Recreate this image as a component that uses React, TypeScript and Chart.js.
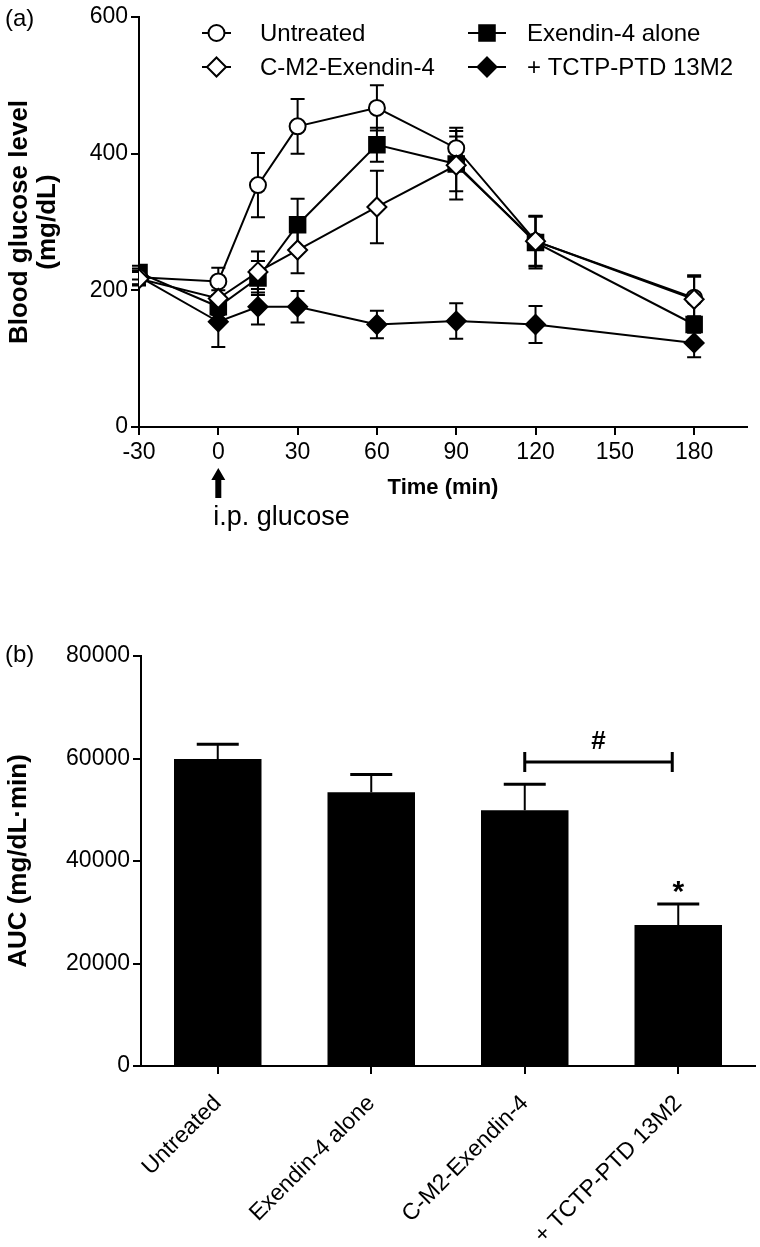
import React, { useEffect, useRef } from 'react';
import { Chart, registerables } from 'chart.js';

Chart.register(...registerables);

const FONT = '"Liberation Sans", Arial, Helvetica, sans-serif';

// ---------- Panel (a) data ----------
const timePoints = [-30, 0, 15, 30, 60, 90, 120, 180];
const xTicksA = [-30, 0, 30, 60, 90, 120, 150, 180];
const yTicksA = [0, 200, 400, 600];

const untreated = [219, 213, 354, 440, 467, 408, 272, 189];
const untreatedErr = [10, 20, 47, 40, 33, 30, 37, 33];
const exendinAlone = [226, 176, 218, 296, 413, 385, 270, 150];
const exendinAloneErr = [10, 12, 25, 38, 25, 40, 38, 12];
const cm2Exendin = [217, 188, 227, 259, 322, 383, 272, 187];
const cm2ExendinErr = [10, 12, 30, 34, 53, 50, 36, 33];
const tctp = [220, 154, 176, 176, 150, 155, 150, 123];
const tctpErr = [12, 37, 26, 23, 20, 26, 27, 21];

const seriesNames = ['Untreated', 'Exendin-4 alone', 'C-M2-Exendin-4', '+ TCTP-PTD 13M2'];

// ---------- Panel (b) data ----------
const categories = ['Untreated', 'Exendin-4 alone', 'C-M2-Exendin-4', '+ TCTP-PTD 13M2'];
const aucValues = [59900, 53400, 49900, 27500];
const aucErrors = [2900, 3500, 5100, 4100];
const yTicksB = [0, 20000, 40000, 60000, 80000];
const bracketFrom = 2;
const bracketTo = 3;
const bracketValue = 59300;
const hashValue = 63300;
const starValue = 34800;

function drawMarker(
  ctx: CanvasRenderingContext2D,
  style: string,
  x: number,
  y: number,
  r: number,
  fill: string,
) {
  ctx.save();
  ctx.beginPath();
  if (style === 'circle') {
    ctx.arc(x, y, r, 0, Math.PI * 2);
  } else if (style === 'rect') {
    const s = r * Math.SQRT1_2;
    ctx.rect(x - s, y - s, 2 * s, 2 * s);
  } else {
    ctx.moveTo(x, y - r);
    ctx.lineTo(x + r, y);
    ctx.lineTo(x, y + r);
    ctx.lineTo(x - r, y);
    ctx.closePath();
  }
  ctx.fillStyle = fill;
  ctx.fill();
  ctx.lineWidth = 2;
  ctx.strokeStyle = '#000';
  ctx.stroke();
  ctx.restore();
}

const errorBarsA = {
  id: 'errorBarsA',
  beforeDatasetsDraw(chart: any) {
    const ctx = chart.ctx;
    const ys = chart.scales.y;
    ctx.save();
    ctx.strokeStyle = '#000';
    ctx.lineWidth = 2;
    chart.data.datasets.forEach((ds: any, i: number) => {
      const meta = chart.getDatasetMeta(i);
      meta.data.forEach((pt: any, j: number) => {
        const v = ds.data[j].y;
        const e = ds.errors[j];
        const x = pt.x;
        const yt = ys.getPixelForValue(v + e);
        const yb = ys.getPixelForValue(v - e);
        ctx.beginPath();
        ctx.moveTo(x, yt);
        ctx.lineTo(x, yb);
        ctx.moveTo(x - 7, yt);
        ctx.lineTo(x + 7, yt);
        ctx.moveTo(x - 7, yb);
        ctx.lineTo(x + 7, yb);
        ctx.stroke();
      });
    });
    ctx.restore();
  },
};

const extrasA = {
  id: 'extrasA',
  afterDraw(chart: any) {
    const ctx = chart.ctx;
    const xs = chart.scales.x;
    const area = chart.chartArea;
    ctx.save();
    // panel label
    ctx.fillStyle = '#000';
    ctx.font = `24px ${FONT}`;
    ctx.textAlign = 'left';
    ctx.textBaseline = 'middle';
    ctx.fillText('(a)', 5, 19);

    // legend
    const slots = [
      { lx: 202, rx: 231, tx: 260, y: 33 },
      { lx: 468, rx: 506, tx: 527, y: 33 },
      { lx: 202, rx: 231, tx: 260, y: 67 },
      { lx: 468, rx: 506, tx: 527, y: 67 },
    ];
    chart.data.datasets.forEach((ds: any, i: number) => {
      const s = slots[i];
      ctx.strokeStyle = '#000';
      ctx.lineWidth = 2;
      ctx.beginPath();
      ctx.moveTo(s.lx, s.y);
      ctx.lineTo(s.rx, s.y);
      ctx.stroke();
      drawMarker(ctx, ds.pointStyle, (s.lx + s.rx) / 2, s.y, ds.pointRadius, ds.pointBackgroundColor);
      ctx.fillStyle = '#000';
      ctx.font = `24px ${FONT}`;
      ctx.textAlign = 'left';
      ctx.textBaseline = 'middle';
      ctx.fillText(ds.label, s.tx, s.y + 1);
    });

    // arrow + i.p. glucose
    const ax = xs.getPixelForValue(0);
    const top = area.bottom + 41;
    ctx.fillStyle = '#000';
    ctx.beginPath();
    ctx.moveTo(ax, top);
    ctx.lineTo(ax + 7, top + 12);
    ctx.lineTo(ax + 3, top + 12);
    ctx.lineTo(ax + 3, top + 30);
    ctx.lineTo(ax - 3, top + 30);
    ctx.lineTo(ax - 3, top + 12);
    ctx.lineTo(ax - 7, top + 12);
    ctx.closePath();
    ctx.fill();
    ctx.font = `27px ${FONT}`;
    ctx.textAlign = 'left';
    ctx.textBaseline = 'middle';
    ctx.fillText('i.p. glucose', ax - 5, area.bottom + 91);
    ctx.restore();
  },
};

const errorBarsB = {
  id: 'errorBarsB',
  afterDatasetsDraw(chart: any) {
    const ctx = chart.ctx;
    const ys = chart.scales.y;
    const xs = chart.scales.x;
    const meta = chart.getDatasetMeta(0);
    ctx.save();
    ctx.strokeStyle = '#000';
    ctx.fillStyle = '#000';
    meta.data.forEach((bar: any, j: number) => {
      const yc = ys.getPixelForValue(aucValues[j] + aucErrors[j]);
      ctx.lineWidth = 2;
      ctx.beginPath();
      ctx.moveTo(bar.x, bar.y);
      ctx.lineTo(bar.x, yc);
      ctx.stroke();
      ctx.lineWidth = 3;
      ctx.beginPath();
      ctx.moveTo(bar.x - 21, yc);
      ctx.lineTo(bar.x + 21, yc);
      ctx.stroke();
    });
    // bracket
    const bx1 = xs.getPixelForValue(bracketFrom);
    const bx2 = xs.getPixelForValue(bracketTo) - 6;
    const by = ys.getPixelForValue(bracketValue);
    ctx.lineWidth = 3;
    ctx.beginPath();
    ctx.moveTo(bx1, by);
    ctx.lineTo(bx2, by);
    ctx.moveTo(bx1, by - 10);
    ctx.lineTo(bx1, by + 10);
    ctx.moveTo(bx2, by - 10);
    ctx.lineTo(bx2, by + 10);
    ctx.stroke();
    ctx.font = `bold 26px ${FONT}`;
    ctx.textAlign = 'center';
    ctx.textBaseline = 'middle';
    ctx.fillText('#', (bx1 + bx2) / 2, ys.getPixelForValue(hashValue));
    ctx.font = `bold 30px ${FONT}`;
    ctx.fillText('*', xs.getPixelForValue(bracketTo), ys.getPixelForValue(starValue) + 5);
    // panel label
    ctx.font = `24px ${FONT}`;
    ctx.textAlign = 'left';
    ctx.fillText('(b)', 5, 95);
    ctx.restore();
  },
};

const axisCommon = {
  border: { display: true, color: '#000', width: 2 },
  grid: { drawOnChartArea: false, drawTicks: true, tickLength: 8, color: '#000', lineWidth: 2 },
};

export default function App() {
  const refA = useRef<HTMLCanvasElement | null>(null);
  const refB = useRef<HTMLCanvasElement | null>(null);

  useEffect(() => {
    Chart.defaults.font.family = FONT;
    Chart.defaults.color = '#000';
    const base = {
      type: 'line',
      borderColor: '#000',
      borderWidth: 2,
      pointBorderColor: '#000',
      pointBorderWidth: 2,
      tension: 0,
      fill: false,
    };
    const xy = (arr: number[]) => arr.map((v, i) => ({ x: timePoints[i], y: v }));
    const chartA = new Chart(refA.current as HTMLCanvasElement, {
      type: 'line',
      data: {
        datasets: [
          { ...base, label: seriesNames[0], data: xy(untreated), errors: untreatedErr, pointStyle: 'circle', pointRadius: 8, pointBackgroundColor: '#fff', order: 1 },
          { ...base, label: seriesNames[1], data: xy(exendinAlone), errors: exendinAloneErr, pointStyle: 'rect', pointRadius: 11, pointBackgroundColor: '#000', order: 2 },
          { ...base, label: seriesNames[2], data: xy(cm2Exendin), errors: cm2ExendinErr, pointStyle: 'rectRot', pointRadius: 9.5, pointBackgroundColor: '#fff', order: 0 },
          { ...base, label: seriesNames[3], data: xy(tctp), errors: tctpErr, pointStyle: 'rectRot', pointRadius: 9.5, pointBackgroundColor: '#000', order: 3 },
        ] as any,
      },
      options: {
        responsive: false,
        animation: false,
        events: [],
        layout: { padding: { left: 0, top: 17, right: 5, bottom: 59 } },
        plugins: { legend: { display: false }, tooltip: { enabled: false } },
        scales: {
          x: {
            type: 'linear',
            min: -30,
            max: 200,
            ...axisCommon,
            afterBuildTicks: (s: any) => { s.ticks = xTicksA.map((v) => ({ value: v })); },
            afterFit: (s: any) => { s.height = 74; },
            ticks: { font: { size: 23 }, padding: 4, callback: (v: any) => String(v), autoSkip: false, maxRotation: 0 },
            title: { display: true, text: 'Time (min)', font: { size: 22, weight: 'bold' }, padding: { top: 0, bottom: 0 } },
          },
          y: {
            type: 'linear',
            min: 0,
            max: 600,
            ...axisCommon,
            afterBuildTicks: (s: any) => { s.ticks = yTicksA.map((v) => ({ value: v })); },
            afterFit: (s: any) => { s.width = 139; },
            ticks: { font: { size: 23 }, padding: 3, callback: (v: any) => String(v) },
            title: {
              display: true,
              text: ['Blood glucose level', '(mg/dL)'],
              font: { size: 26, weight: 'bold', lineHeight: 1.08 },
              padding: { top: 6, bottom: 0 },
            },
          },
        },
      } as any,
      plugins: [errorBarsA, extrasA],
    } as any);

    const chartB = new Chart(refB.current as HTMLCanvasElement, {
      type: 'bar',
      data: {
        labels: categories,
        datasets: [
          {
            label: 'AUC',
            data: aucValues,
            backgroundColor: '#000',
            borderWidth: 0,
            barPercentage: 0.57,
            categoryPercentage: 1,
          },
        ],
      },
      options: {
        responsive: false,
        animation: false,
        events: [],
        layout: { padding: { left: 0, top: 96, right: 5, bottom: 0 } },
        plugins: { legend: { display: false }, tooltip: { enabled: false } },
        scales: {
          x: {
            type: 'category',
            offset: true,
            ...axisCommon,
            grid: { ...axisCommon.grid, offset: false },
            afterFit: (s: any) => { s.height = 181; },
            ticks: { font: { size: 23 }, padding: 16, minRotation: 45, maxRotation: 45, autoSkip: false },
          },
          y: {
            type: 'linear',
            min: 0,
            max: 80000,
            ...axisCommon,
            afterBuildTicks: (s: any) => { s.ticks = yTicksB.map((v) => ({ value: v })); },
            afterFit: (s: any) => { s.width = 141; },
            ticks: { font: { size: 23 }, padding: 3, callback: (v: any) => String(v) },
            title: {
              display: true,
              text: 'AUC (mg/dL\u00B7min)',
              font: { size: 26, weight: 'bold', lineHeight: 1.1 },
              padding: { top: 5, bottom: 0 },
            },
          },
        },
      } as any,
      plugins: [errorBarsB],
    } as any);

    return () => {
      chartA.destroy();
      chartB.destroy();
    };
  }, []);

  return (
    <div style={{ position: 'absolute', left: 0, top: 0, width: 760, height: 1247, background: '#fff' }}>
      <canvas
        ref={refA}
        width={760}
        height={560}
        style={{ position: 'absolute', left: 0, top: 0, width: 760, height: 560 }}
      />
      <canvas
        ref={refB}
        width={760}
        height={687}
        style={{ position: 'absolute', left: 0, top: 560, width: 760, height: 687 }}
      />
    </div>
  );
}
